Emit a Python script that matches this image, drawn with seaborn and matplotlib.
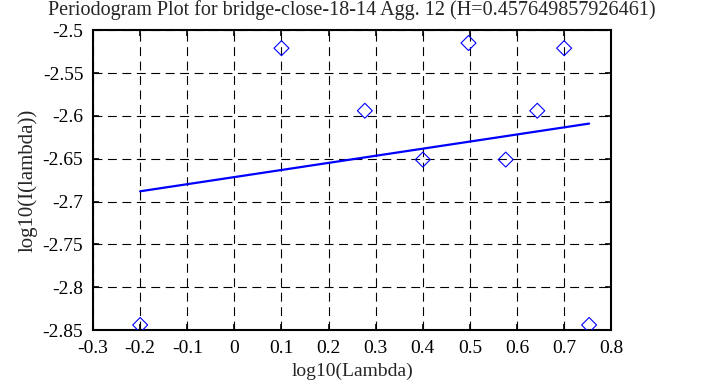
import matplotlib
matplotlib.use("Agg")
import matplotlib.pyplot as plt
import matplotlib.ticker as mticker
import seaborn as sns
import pandas as pd

# periodogram points (log10 lambda, log10 I(lambda))
log_lambda = [-0.2, 0.1, 0.277, 0.4, 0.497, 0.576, 0.643, 0.7, 0.753]
log_intensity = [-2.844, -2.521, -2.594, -2.651, -2.515, -2.651, -2.594, -2.521, -2.844]

# fitted line end points
fit_x = [-0.2, 0.753]
fit_y = [-2.688, -2.609]

x_ticks = [-0.3, -0.2, -0.1, 0, 0.1, 0.2, 0.3, 0.4, 0.5, 0.6, 0.7, 0.8]
y_ticks = [-2.85, -2.8, -2.75, -2.7, -2.65, -2.6, -2.55, -2.5]

title = "Periodogram Plot for bridge-close-18-14 Agg. 12 (H=0.457649857926461)"

sns.set_style("ticks")
plt.rcParams["font.family"] = ["Liberation Serif", "DejaVu Serif"]

df = pd.DataFrame({"x": log_lambda, "y": log_intensity})
fit = pd.DataFrame({"x": fit_x, "y": fit_y})

fig = plt.figure(figsize=(7.05, 3.87), dpi=100)
ax = fig.add_axes([0.132, 0.147, 0.735, 0.775])

ax.set_xlim(-0.3, 0.8)
ax.set_ylim(-2.85, -2.5)
ax.set_xticks(x_ticks)
ax.set_yticks(y_ticks)
ax.xaxis.set_major_formatter(mticker.FormatStrFormatter("%g"))
ax.yaxis.set_major_formatter(mticker.FormatStrFormatter("%g"))

ax.grid(True, color="black", linestyle=(0, (8, 5)), linewidth=0.8)
ax.set_axisbelow(True)

sns.scatterplot(data=df, x="x", y="y", marker="D", s=58,
                facecolor="none", edgecolor="blue", linewidth=0.8,
                ax=ax, zorder=3)
sns.lineplot(data=fit, x="x", y="y", color="blue", linewidth=1.6,
             ax=ax, zorder=3)

for sp in ax.spines.values():
    sp.set_visible(True)
    sp.set_linewidth(1.5)
    sp.set_color("black")

ax.tick_params(direction="in", length=4, width=1.2, top=True, right=True,
               labelsize=14, colors="black")
ax.tick_params(axis="x", pad=7)
ax.tick_params(axis="y", pad=7)

ax.set_title(title, fontsize=14.5, pad=11)
ax.set_xlabel("log10(Lambda)", fontsize=14, labelpad=4)
ax.set_ylabel("log10(I(lambda))", fontsize=15, labelpad=4)

fig.savefig("out.png", dpi=100)
